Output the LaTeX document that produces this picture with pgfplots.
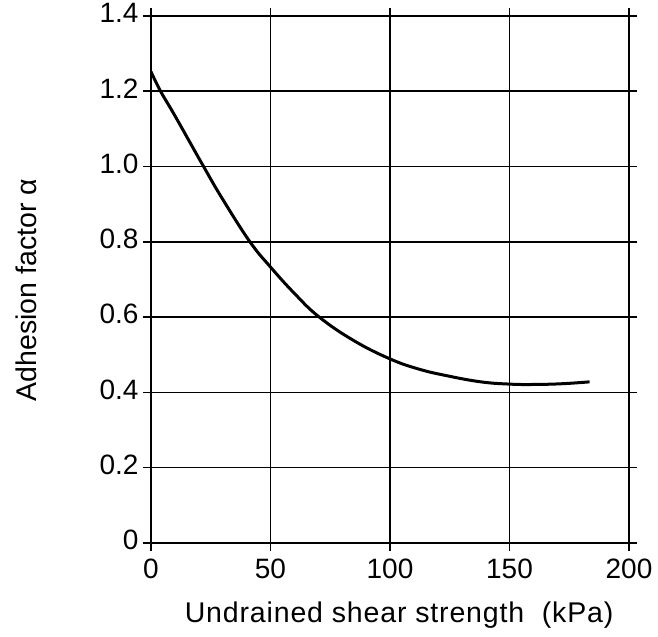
\documentclass[border=0pt]{standalone}
\usepackage{fontspec}
\setmainfont{Liberation Sans}
\newfontfamily\xlabfont[LetterSpace=3]{Liberation Sans}
\usepackage{pgfplots}
\pgfplotsset{compat=1.18}
\begin{document}
\begin{tikzpicture}
\begin{axis}[
  scale only axis,
  width=478pt, height=527pt,
  xmin=0, xmax=200, ymin=0, ymax=1.4,
  xtick={0,50,100,150,200},
  ytick={0,0.2,0.4,0.6,0.8,1.0,1.2,1.4},
  yticklabels={0,0.2,0.4,0.6,0.8,1.0,1.2,1.4},
  grid=major,
  grid style={black, line width=1.5pt},
  axis line style={black, line width=2.5pt},
  tick align=outside,
  major tick length=8pt,
  tick style={black, line width=1.5pt},
  /pgf/number format/assume math mode=true,
  ticklabel style={font=\fontsize{28}{32}\selectfont},
  xticklabel style={yshift=-4pt},
  yticklabel style={xshift=-1pt, yshift=3pt},
  xlabel={\xlabfont Undrained shear strength\ \ (kPa)},
  ylabel={Adhesion factor α},
  label style={font=\fontsize{28.5}{32}\selectfont},
  xlabel style={at={(axis description cs:0.519,0)}, anchor=center, yshift=-72pt},
  ylabel style={at={(axis description cs:-0.2615,0.48)}, anchor=center},
]
\addplot[black, line width=3pt, smooth, tension=0.7] coordinates {
  (0,1.252) (4,1.2) (10,1.135) (22,1.0) (30,0.913) (41.4,0.8) (50,0.733)
  (60,0.663) (70.4,0.6) (85,0.537) (100,0.489) (112,0.462) (124,0.444)
  (138,0.428) (150,0.422) (160,0.421) (172,0.423) (183.5,0.428)
};
\end{axis}
\path ([shift={(-151pt,-94pt)}]current axis.south west) rectangle ([shift={(29pt,15pt)}]current axis.north east);
\end{tikzpicture}
\end{document}
